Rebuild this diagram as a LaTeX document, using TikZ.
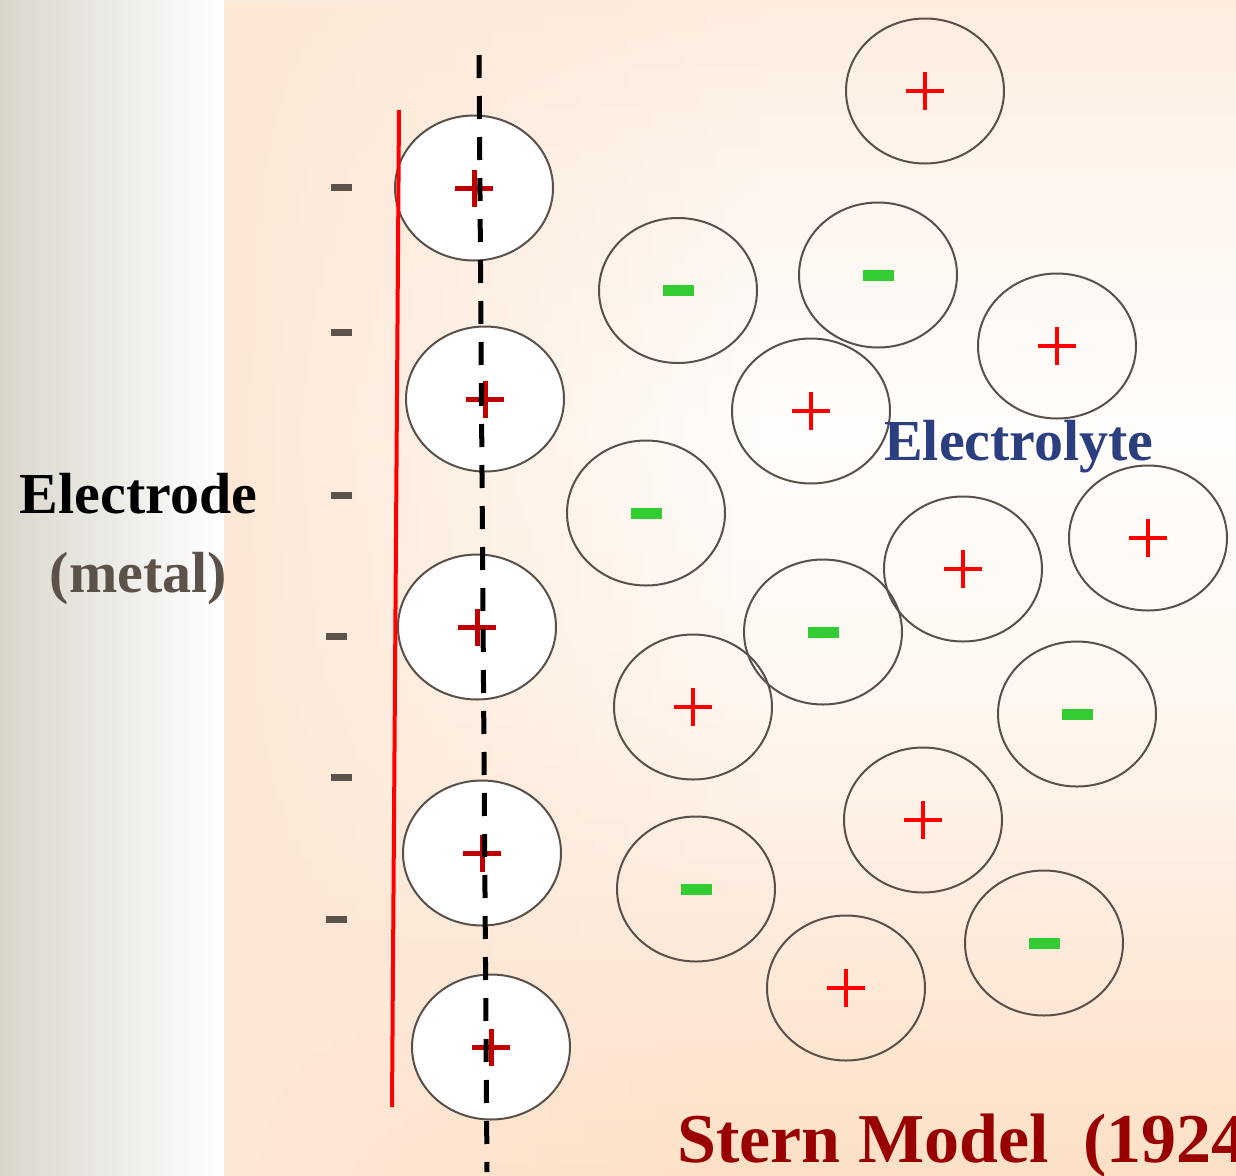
\documentclass[tikz,border=0pt]{standalone}
\usepackage{fontspec}
\setmainfont{Liberation Serif}
\usetikzlibrary{shapes.geometric,fadings}
\definecolor{peachL}{HTML}{FDE8D6}
\definecolor{greyL}{HTML}{DAD6CC}
\definecolor{ringc}{HTML}{595049}
\definecolor{sternplus}{HTML}{C00000}
\definecolor{ionplus}{HTML}{FF0000}
\definecolor{ionminus}{HTML}{33CC33}
\definecolor{elminus}{HTML}{5B5249}
\definecolor{navytxt}{HTML}{2B3F80}
\definecolor{titlered}{HTML}{990000}
\definecolor{metaltxt}{HTML}{5B5249}
\definecolor{bgA}{HTML}{FDE0C5}
\definecolor{bgB}{HTML}{FEEBDC}
\definecolor{bgC}{HTML}{FFF8F2}
\definecolor{bgD}{HTML}{FFFDFB}
\definecolor{bgE}{HTML}{FEF5EE}
\definecolor{bgF}{HTML}{FDECDE}
\pgfdeclareverticalshading{bgvert}{100bp}{color(0bp)=(bgA); color(25bp)=(bgA); color(35.6bp)=(bgB); color(46.3bp)=(bgC); color(56.7bp)=(bgD); color(67.5bp)=(bgE); color(75bp)=(bgF); color(100bp)=(bgF)}
\tikzfading[name=leftfade, left color=transparent!0, right color=transparent!100]
\begin{document}
\begin{tikzpicture}[x=1bp,y=-1bp,
  ion/.style={ellipse, draw=ringc, line width=2bp, minimum width=158bp, minimum height=145bp, inner sep=0pt},
  sternion/.style={ion, fill=white},
  elbar/.style={rectangle, fill=elminus, minimum width=21bp, minimum height=7bp, inner sep=0pt},
  greenbar/.style={rectangle, fill=ionminus, minimum width=31bp, minimum height=11bp, inner sep=0pt},
  bigtext/.style={font=\fontsize{58bp}{66bp}\selectfont\bfseries, inner sep=0pt},
  pplus/.pic={\draw[ionplus, line width=4.5bp] (-19,0)--(19,0) (0,-19)--(0,19);},
  splus/.pic={\draw[sternplus, line width=5bp] (-19,0)--(19,0) (0,-18.5)--(0,18.5);}
]
\useasboundingbox (0,0) rectangle (1236,1176);
\clip (0,0) rectangle (1236,1176);
% backgrounds
\shade[left color=greyL, right color=white] (0,0) rectangle (224,1176);
\shade[shading=bgvert] (224,0) rectangle (1236,1176);
\fill[peachL, path fading=leftfade] (224,0) rectangle (760,1176);
% electrode charges
\foreach \n/\x/\y in {1/341/187.5, 2/341/332, 3/341/495, 4/336/636, 5/341/777, 6/336/919}
  \node[elbar] (em\n) at (\x,\y) {};
% Stern layer ions
\foreach \n/\x/\y in {1/474/188, 2/485/399, 3/477/627, 4/482/853, 5/491/1047}
  \node[sternion] (s\n) at (\x,\y) {};
% red plane
\coordinate (rtop) at (399,110);
\coordinate (rbot) at (392,1107);
\draw[ionplus, line width=4bp] (rtop) -- (rbot);
\foreach \n in {1,...,5}
  \path (s\n.center) pic {splus};
% dashed plane
\coordinate (dtop) at (479,55);
\coordinate (dbot) at (487,1172);
\draw[black, line width=5bp, dash pattern=on 23bp off 18bp] (dtop) -- (dbot);
% electrolyte cations
\foreach \n/\x/\y in {1/925/91, 2/1057/346, 3/811/411, 4/1148/538, 5/963/569, 6/693/707, 7/923/820, 8/846/988}
  {\node[ion] (c\n) at (\x,\y) {};
   \path (c\n.center) pic {pplus};}
% electrolyte anions
\foreach \n/\x/\y in {1/678/290.5, 2/878/275, 3/646/513, 4/823/632, 5/1077/714, 6/696/889, 7/1044/943}
  {\node[ion] (a\n) at (\x,\y) {};
   \node[greenbar] (g\n) at (a\n.center) {};}
% labels
\node[bigtext, anchor=base] (electrode) at (138.5,513) {Electrode};
\node[bigtext, anchor=base, text=metaltxt] (metal) at (138.5,592) {(metal)};
\node[bigtext, anchor=base west, text=navytxt] (electrolyte) at (884,460) {Electrolyte};
\node[font=\fontsize{70bp}{80bp}\selectfont\bfseries, inner sep=0pt, anchor=base west, text=titlered] (title) at (677,1162) {Stern Model~~(1924)};
\end{tikzpicture}
\end{document}
